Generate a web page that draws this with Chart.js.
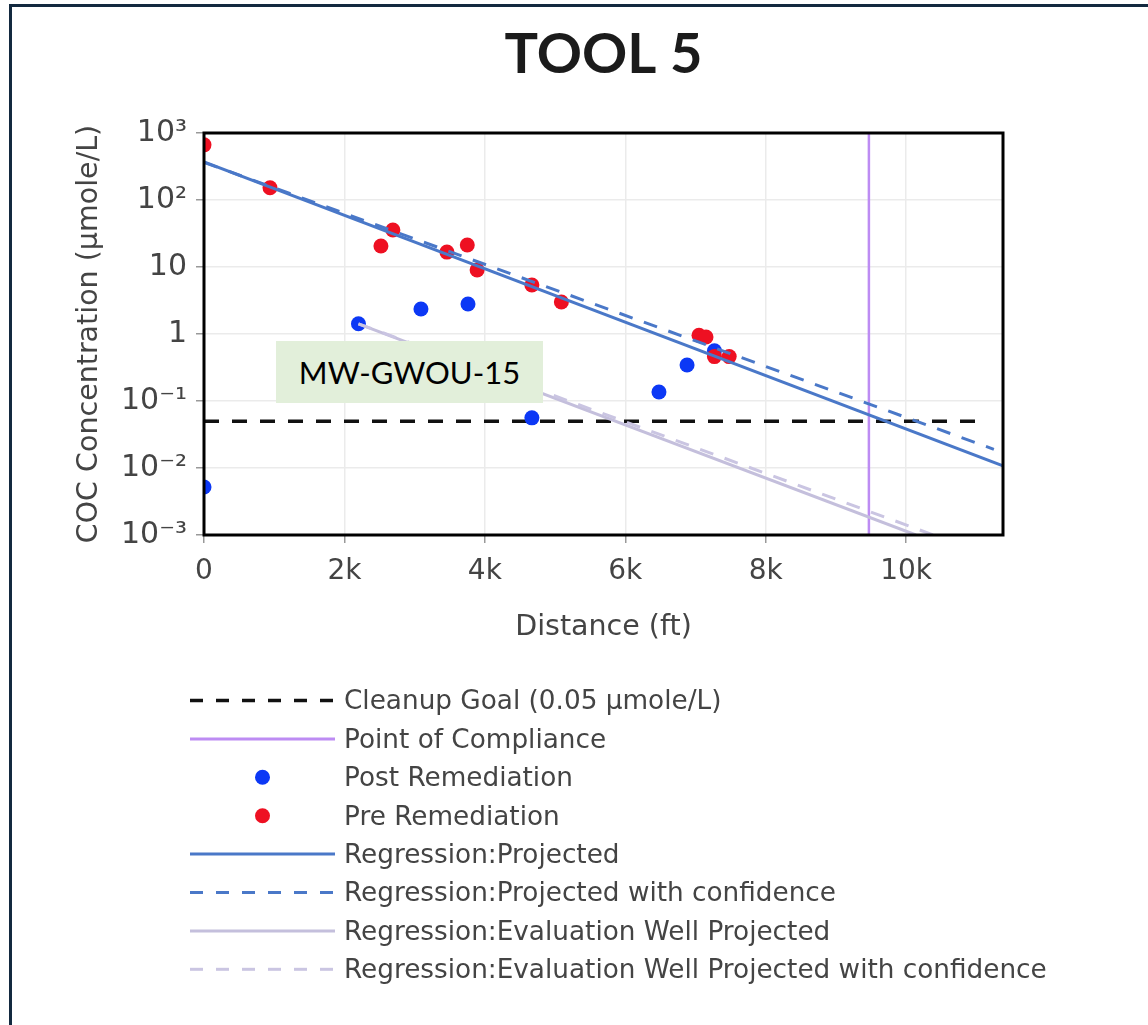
<!DOCTYPE html>
<html><head><meta charset="utf-8">
<script src="https://cdn.jsdelivr.net/npm/chart.js@4.4.1/dist/chart.umd.min.js"></script>
<style>
html,body{margin:0;padding:0;background:#fff;overflow:hidden;width:1148px;height:1025px;}
#frame{position:absolute;left:9px;top:4px;width:1200px;height:1100px;border:3px solid #13293f;box-sizing:border-box;}
#wrap{position:absolute;left:0;top:0;width:1148px;height:1025px;}
#note{position:absolute;left:276px;top:341px;width:267px;height:62px;background:#e2efda;font-family:Lato,sans-serif;font-size:31px;color:#000;display:flex;align-items:center;justify-content:center;}
</style></head><body>
<div id="frame"></div>
<div id="wrap"><canvas id="c" width="1148" height="1025"></canvas></div>
<div id="note">MW-GWOU-15</div>
<script>
// ---- data ----
const seriesNames = [
  'Cleanup Goal (0.05 µmole/L)',
  'Point of Compliance',
  'Post Remediation',
  'Pre Remediation',
  'Regression:Projected',
  'Regression:Projected with confidence',
  'Regression:Evaluation Well Projected',
  'Regression:Evaluation Well Projected with confidence'
];
const goalX = [0, 11160];
const goalY = [0.05, 0.05];
const pocX = [9470, 9470];
const pocY = [0.001, 1000];
const postX = [0, 2200, 3090, 3760, 4670, 6480, 6880, 7270];
const postY = [0.0052, 1.42, 2.36, 2.8, 0.056, 0.136, 0.345, 0.56];
const preX = [0, 940, 2520, 2690, 3460, 3750, 3890, 4670, 5090, 7050, 7150, 7270, 7480];
const preY = [665, 152, 20.6, 35.6, 16.7, 21.3, 9.0, 5.4, 3.0, 0.96, 0.9, 0.46, 0.46];
const regX = [0, 11380];
const regY = [370, 0.0108];
const regConfX = [0, 11250];
const regConfY = [365, 0.019];
const evalX = [2200, 10140];
const evalY = [1.42, 0.001];
const evalConfX = [2200, 10390];
const evalConfY = [1.42, 0.001];
const xTicks = [0, 2000, 4000, 6000, 8000, 10000];
const xTickLabels = ['0', '2k', '4k', '6k', '8k', '10k'];
const yTicks = [0.001, 0.01, 0.1, 1, 10, 100, 1000];
const yTickLabels = ['10⁻³', '10⁻²', '10⁻¹', '1', '10', '10²', '10³'];
const chartTitle = 'TOOL 5';
const xTitle = 'Distance (ft)';
const yTitle = 'COC Concentration (µmole/L)';

const pts = (xs, ys) => xs.map((x, i) => ({x: x, y: ys[i]}));

const lineDs = (label, xs, ys, color, width, dash, order) => ({
  label, data: pts(xs, ys), showLine: true, borderColor: color, backgroundColor: color,
  borderWidth: width, borderDash: dash, pointRadius: 0, pointHoverRadius: 0, order, clip: 0, tension: 0
});
const dotDs = (label, xs, ys, color, order) => ({
  label, data: pts(xs, ys), showLine: false, backgroundColor: color, borderColor: color,
  borderWidth: 0, pointRadius: 7.5, pointHoverRadius: 7.5, order, clip: 0
});

const datasets = [
  lineDs(seriesNames[0], goalX, goalY, '#111111', 3.5, [15, 13], 8),
  lineDs(seriesNames[1], pocX, pocY, '#bd8cf3', 2.5, [], 7),
  dotDs(seriesNames[2], postX, postY, '#0c38f5', 6),
  dotDs(seriesNames[3], preX, preY, '#ee1022', 5),
  lineDs(seriesNames[4], regX, regY, '#4a78c8', 3, [], 4),
  lineDs(seriesNames[5], regConfX, regConfY, '#4a78c8', 3, [14, 12], 3),
  lineDs(seriesNames[6], evalX, evalY, '#c4bfdc', 3, [], 2),
  lineDs(seriesNames[7], evalConfX, evalConfY, '#cac5e2', 3, [14, 12], 1)
];

const borderPlugin = {
  id: 'plotBorder',
  afterDatasetsDraw(chart) {
    const {ctx, chartArea: a} = chart;
    ctx.save();
    ctx.strokeStyle = '#000';
    ctx.lineWidth = 3;
    ctx.strokeRect(a.left, a.top, a.right - a.left, a.bottom - a.top);
    ctx.restore();
  }
};

const legendPlugin = {
  id: 'vlegend',
  afterDraw(chart) {
    const ctx = chart.ctx;
    const x0 = 190, x1 = 335, tx = 344, top = 700.5, step = 38.4;
    chart.data.datasets.forEach((ds, i) => {
      const y = top + i * step;
      ctx.save();
      if (ds.showLine) {
        ctx.strokeStyle = ds.borderColor;
        ctx.lineWidth = Math.max(ds.borderWidth, 3);
        ctx.setLineDash(ds.borderDash && ds.borderDash.length ? [13, 13] : []);
        ctx.beginPath(); ctx.moveTo(x0, y); ctx.lineTo(x1, y); ctx.stroke();
      } else {
        ctx.fillStyle = ds.backgroundColor;
        ctx.beginPath(); ctx.arc((x0 + x1) / 2, y, 7.5, 0, Math.PI * 2); ctx.fill();
      }
      ctx.setLineDash([]);
      ctx.fillStyle = '#444';
      ctx.font = '26.3px "DejaVu Sans"';
      ctx.textBaseline = 'middle';
      ctx.textAlign = 'left';
      ctx.fillText(ds.label, tx, y + 2);
      ctx.restore();
    });
  }
};

new Chart(document.getElementById('c'), {
  type: 'scatter',
  data: {datasets},
  plugins: [borderPlugin, legendPlugin],
  options: {
    responsive: false,
    animation: false,
    devicePixelRatio: 1,
    layout: {padding: {left: 0, top: 0, right: 145, bottom: 380}},
    plugins: {
      legend: {display: false},
      tooltip: {enabled: false},
      title: {
        display: true, text: chartTitle, fullSize: false, color: '#1b1b1b',
        font: {family: 'Lato', weight: 'bold', size: 56, lineHeight: 1.2},
        padding: {top: 21, bottom: 44.8}
      }
    },
    scales: {
      x: {
        type: 'linear', min: 0, max: 11380,
        afterFit: (s) => { s.height = 110; },
        afterBuildTicks: (s) => { s.ticks = xTicks.map(v => ({value: v})); },
        ticks: {
          autoSkip: false, maxRotation: 0, padding: 12, color: '#444',
          font: {family: 'DejaVu Sans', size: 28},
          callback: (v) => xTickLabels[xTicks.indexOf(v)]
        },
        grid: {color: '#ebebeb', lineWidth: 1.5, tickLength: 8, tickColor: '#999', tickWidth: 1.5},
        border: {display: false},
        title: {display: true, text: xTitle, color: '#444', font: {family: 'DejaVu Sans', size: 28.5, lineHeight: 1.2}, padding: {top: 0, bottom: 0}}
      },
      y: {
        type: 'logarithmic', min: 0.001, max: 1000,
        afterFit: (s) => { s.width = 204; },
        afterBuildTicks: (s) => { s.ticks = yTicks.map(v => ({value: v, major: true})); },
        ticks: {
          autoSkip: false, padding: 9, color: '#444',
          font: {family: 'DejaVu Sans', size: 30},
          callback: (v) => yTickLabels[yTicks.indexOf(v)]
        },
        grid: {color: '#ebebeb', lineWidth: 1.5, tickLength: 8, tickColor: '#999', tickWidth: 1.5},
        border: {display: false},
        title: {display: true, text: yTitle, color: '#444', font: {family: 'DejaVu Sans', size: 28.5, lineHeight: 1.2}, padding: {top: 72, bottom: 0}}
      }
    }
  }
});
</script>
</body></html>
